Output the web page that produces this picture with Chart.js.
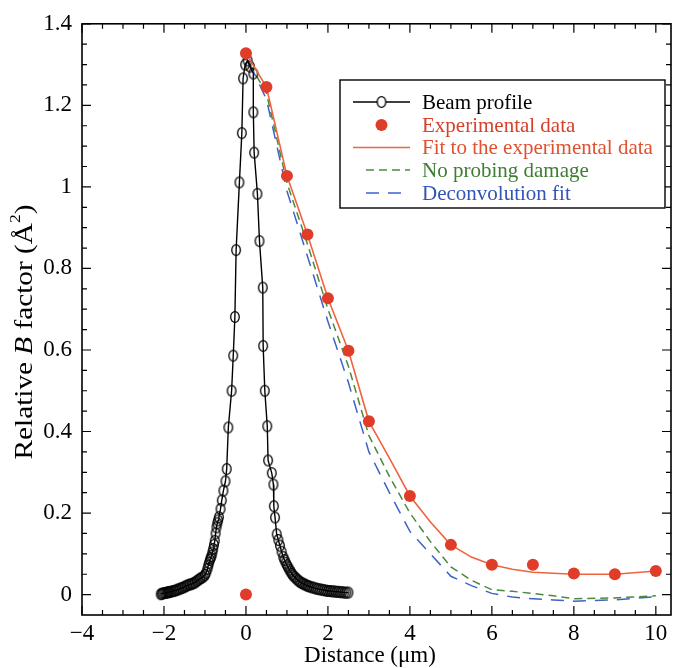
<!DOCTYPE html>
<html>
<head>
<meta charset="utf-8">
<script src="https://cdn.jsdelivr.net/npm/chart.js@4.4.1/dist/chart.umd.min.js"></script>
<style>
html, body { margin: 0; padding: 0; background: #fff; }
#wrap { width: 673px; height: 668px; }
</style>
</head>
<body>
<div id="wrap"><canvas id="grafico" width="673" height="668"></canvas></div>
<script>
// datos
const beamX = [-2.08, -2.05, -2.02, -1.99, -1.96, -1.93, -1.9, -1.87, -1.84, -1.8, -1.76, -1.72, -1.68, -1.64, -1.6, -1.56,
    -1.52, -1.48, -1.44, -1.4, -1.36, -1.32, -1.28, -1.24, -1.2, -1.16, -1.12, -1.08, -1.04, -1.0, -0.97, -0.94, -0.92,
    -0.9, -0.88, -0.86, -0.84, -0.82, -0.8, -0.78, -0.76, -0.74, -0.72, -0.7, -0.68, -0.66, -0.62, -0.59, -0.55, -0.5,
    -0.47, -0.43, -0.35, -0.31, -0.27, -0.24, -0.16, -0.1, -0.07, -0.02, 0.04, 0.1, 0.18, 0.18, 0.2, 0.28, 0.33, 0.41,
    0.42, 0.46, 0.52, 0.54, 0.63, 0.67, 0.68, 0.71, 0.75, 0.79, 0.83, 0.87, 0.91, 0.94, 0.97, 1.0, 1.03, 1.06, 1.09, 1.12,
    1.15, 1.19, 1.23, 1.27, 1.31, 1.35, 1.39, 1.43, 1.47, 1.51, 1.55, 1.6, 1.65, 1.7, 1.75, 1.8, 1.85, 1.9, 1.95, 2.0,
    2.05, 2.1, 2.15, 2.2, 2.25, 2.3, 2.35, 2.4, 2.45, 2.5];
const beamY = [0.001, 0.002, 0.003, 0.004, 0.004, 0.005, 0.006, 0.006, 0.007, 0.008, 0.009, 0.010, 0.012, 0.013, 0.015, 0.016,
    0.018, 0.02, 0.022, 0.024, 0.025, 0.026, 0.028, 0.03, 0.033, 0.036, 0.039, 0.041, 0.044, 0.048, 0.054, 0.063, 0.071,
    0.078, 0.085, 0.09, 0.095, 0.103, 0.112, 0.122, 0.132, 0.15, 0.165, 0.175, 0.182, 0.19, 0.21, 0.231, 0.255, 0.278,
    0.308, 0.41, 0.5, 0.586, 0.681, 0.845, 1.011, 1.132, 1.266, 1.3, 1.31, 1.295, 1.278, 1.183, 1.084, 0.983, 0.867, 0.753,
    0.61, 0.5, 0.413, 0.329, 0.298, 0.27, 0.217, 0.189, 0.148, 0.134, 0.12, 0.105, 0.092, 0.085, 0.078, 0.072, 0.067, 0.061, 0.056, 0.051,
    0.047, 0.043, 0.039, 0.035, 0.032, 0.029, 0.027, 0.025, 0.023, 0.021, 0.02, 0.018, 0.017, 0.015, 0.014, 0.013, 0.012, 0.011, 0.01, 0.009,
    0.009, 0.008, 0.008, 0.007, 0.007, 0.006, 0.006, 0.005, 0.005, 0.005];

const expX = [0, 0, 0.5, 1, 1.5, 2, 2.5, 3, 4, 5, 6, 7, 8, 9, 10];
const expY = [1.328, 0, 1.245, 1.027, 0.883, 0.727, 0.598, 0.425, 0.242, 0.122, 0.073, 0.073, 0.052, 0.05, 0.058];

const fitX = [0, 0.5, 1, 1.5, 2, 2.5, 3, 3.5, 4, 4.5, 5, 5.5, 6, 6.5, 7, 8, 9, 10];
const fitY = [1.328, 1.245, 1.027, 0.883, 0.727, 0.598, 0.425, 0.335, 0.242, 0.178, 0.122, 0.092, 0.073, 0.062, 0.055, 0.05, 0.05, 0.058];

const noDamageX = [0.1, 0.5, 1, 1.5, 2, 2.5, 3, 3.5, 4, 4.5, 5, 5.5, 6, 6.5, 7, 7.5, 8, 9, 10];
const noDamageY = [1.3, 1.23, 1.01, 0.86, 0.70, 0.56, 0.39, 0.29, 0.20, 0.13, 0.068, 0.035, 0.012, 0.008, 0.003, -0.003, -0.01, -0.008, -0.003];

const deconvX = [0.1, 0.5, 1, 1.5, 2, 2.5, 3, 3.5, 4, 4.5, 5, 5.5, 6, 6.5, 7, 7.5, 8, 9, 10];
const deconvY = [1.3, 1.215, 0.99, 0.83, 0.67, 0.52, 0.35, 0.25, 0.155, 0.10, 0.045, 0.022, 0.003, -0.006, -0.01, -0.013, -0.016, -0.013, -0.005];

const xTicks = [-4, -2, 0, 2, 4, 6, 8, 10];
const yTicks = [0, 0.2, 0.4, 0.6, 0.8, 1, 1.2, 1.4];

const SERIF = '"Liberation Serif", "DejaVu Serif", serif';

function pares(xs, ys) {
    return xs.map((x, i) => ({ x: x, y: ys[i] }));
}

// circulo hueco algo alargado, como en la figura
function creaAnillo() {
    const c = document.createElement("canvas");
    c.width = 12;
    c.height = 14;
    const g = c.getContext("2d");
    g.strokeStyle = "#000";
    g.lineWidth = 1.3;
    g.beginPath();
    g.ellipse(6, 7, 4.3, 5.4, 0, 0, Math.PI * 2);
    g.stroke();
    return c;
}
const anillo = creaAnillo();

// el borde derecho del marco llega casi al final de la imagen
const bordeDerecho = {
    id: "bordeDerecho",
    afterLayout(chart) {
        const x = chart.scales.x;
        chart.chartArea.right = 671;
        chart.chartArea.width = 671 - chart.chartArea.left;
        x.right = 671;
        x.width = 671 - x.left;
        x.configure();
    }
};

// marco con marcas hacia dentro en los cuatro lados
const marco = {
    id: "marco",
    afterDatasetsDraw(chart) {
        const ctx = chart.ctx;
        const a = chart.chartArea;
        const sx = chart.scales.x;
        const sy = chart.scales.y;
        ctx.save();
        ctx.strokeStyle = "#000";
        ctx.lineWidth = 1.2;
        ctx.beginPath();
        for (let i = 0; i <= 28; i++) {
            const v = -4 + i * 0.5;
            const px = sx.getPixelForValue(v);
            const len = (i % 4 === 0) ? 9 : 5;
            ctx.moveTo(px, a.bottom); ctx.lineTo(px, a.bottom - len);
            ctx.moveTo(px, a.top); ctx.lineTo(px, a.top + len);
        }
        for (let i = 1; i <= 29; i++) {
            const v = -0.05 + i * 0.05;
            const py = sy.getPixelForValue(v);
            const len = ((i - 1) % 4 === 0) ? 9 : 5;
            ctx.moveTo(a.left, py); ctx.lineTo(a.left + len, py);
            ctx.moveTo(a.right, py); ctx.lineTo(a.right - len, py);
        }
        ctx.stroke();
        ctx.lineWidth = 1.6;
        ctx.strokeRect(a.left, a.top, a.right - a.left, a.bottom - a.top);
        ctx.restore();
    }
};

// titulos de los ejes (B en cursiva, superindice)
const titulos = {
    id: "titulos",
    afterDraw(chart) {
        const ctx = chart.ctx;
        ctx.save();
        ctx.fillStyle = "#000";
        ctx.textBaseline = "middle";
        ctx.font = "23px " + SERIF;
        ctx.textAlign = "center";
        ctx.fillText("Distance (\u03bcm)", 370, 656);

        const partes = [
            { t: "Relative ", f: "25px " + SERIF, dy: 0 },
            { t: "B", f: "italic 25px " + SERIF, dy: 0 },
            { t: " factor (\u00c5", f: "25px " + SERIF, dy: 0 },
            { t: "2", f: "15px " + SERIF, dy: -9 },
            { t: ")", f: "25px " + SERIF, dy: 0 }
        ];
        let total = 0;
        partes.forEach(p => { ctx.font = p.f; p.w = ctx.measureText(p.t).width; total += p.w; });
        ctx.translate(25, 332);
        ctx.rotate(-Math.PI / 2);
        ctx.scale(1.17, 1);
        ctx.textAlign = "left";
        let cx = -total / 2;
        partes.forEach(p => {
            ctx.font = p.f;
            ctx.fillText(p.t, cx, p.dy);
            cx += p.w;
        });
        ctx.restore();
    }
};

// leyenda dentro del area del grafico
const leyenda = {
    id: "leyenda",
    afterDraw(chart) {
        const ctx = chart.ctx;
        const colores = ["#000000", "#d8402c", "#e0512f", "#3f7d33", "#3454b8"];
        ctx.save();
        ctx.fillStyle = "#fff";
        ctx.fillRect(340, 80, 325, 128);
        ctx.strokeStyle = "#000";
        ctx.lineWidth = 1.4;
        ctx.strokeRect(340, 80, 325, 128);
        const filas = [102, 125, 147.5, 170, 193];
        chart.data.datasets.forEach((ds, i) => {
            const y = filas[i];
            ctx.save();
            if (ds.showLine) {
                ctx.strokeStyle = ds.borderColor;
                ctx.lineWidth = ds.borderWidth;
                ctx.setLineDash(ds.borderDash || []);
                ctx.beginPath();
                ctx.moveTo(i >= 3 ? 366 : 353, y);
                ctx.lineTo(410, y);
                ctx.stroke();
            }
            ctx.setLineDash([]);
            if (ds.pointStyle === anillo) {
                ctx.fillStyle = "#fff";
                ctx.beginPath();
                ctx.ellipse(381.5, y, 4.3, 5.4, 0, 0, Math.PI * 2);
                ctx.fill();
                ctx.drawImage(anillo, 381.5 - 6, y - 7);
            } else if (ds.pointRadius > 0) {
                ctx.beginPath();
                ctx.arc(381.5, y, ds.pointRadius, 0, Math.PI * 2);
                ctx.fillStyle = ds.pointBackgroundColor;
                ctx.fill();
            }
            ctx.restore();
            ctx.fillStyle = colores[i];
            ctx.font = "21px " + SERIF;
            ctx.textBaseline = "middle";
            ctx.textAlign = "left";
            ctx.fillText(ds.label, 422, y + 1);
        });
        ctx.restore();
    }
};

function cargaGrafico() {
    const datos = {
        datasets: [
            {
                label: "Beam profile",
                data: pares(beamX, beamY),
                showLine: true,
                borderColor: "#000",
                borderWidth: 1.4,
                pointStyle: anillo,
                pointRadius: 5,
                order: 2
            },
            {
                label: "Experimental data",
                data: pares(expX, expY),
                showLine: false,
                pointRadius: 6,
                pointBorderWidth: 0,
                pointBackgroundColor: "#e03c2a",
                order: 0
            },
            {
                label: "Fit to the experimental data",
                data: pares(fitX, fitY),
                showLine: true,
                borderColor: "#f0633e",
                borderWidth: 1.6,
                pointRadius: 0,
                order: 1
            },
            {
                label: "No probing damage",
                data: pares(noDamageX, noDamageY),
                showLine: true,
                borderColor: "#4a8a3c",
                borderWidth: 1.5,
                borderDash: [8, 5],
                pointRadius: 0,
                order: 3
            },
            {
                label: "Deconvolution fit",
                data: pares(deconvX, deconvY),
                showLine: true,
                borderColor: "#3e62c8",
                borderWidth: 1.5,
                borderDash: [13, 9],
                pointRadius: 0,
                order: 4
            }
        ]
    };

    const config = {
        type: "scatter",
        data: datos,
        options: {
            responsive: false,
            animation: false,
            devicePixelRatio: 1,
            layout: { padding: { top: 21, right: 2, left: 0, bottom: 0 } },
            scales: {
                x: {
                    type: "linear",
                    min: -4,
                    max: 10.37,
                    grid: { display: false, drawTicks: false },
                    border: { display: false },
                    afterBuildTicks: s => { s.ticks = xTicks.map(v => ({ value: v })); },
                    afterFit: s => { s.height = 53; },
                    ticks: {
                        color: "#000",
                        padding: 5,
                        maxRotation: 0,
                        autoSkip: false,
                        font: { family: SERIF, size: 23 },
                        callback: v => (v < 0 ? "\u2212" + Math.abs(v) : String(v))
                    }
                },
                y: {
                    min: -0.05,
                    max: 1.4,
                    grid: { display: false, drawTicks: false },
                    border: { display: false },
                    afterBuildTicks: s => { s.ticks = yTicks.map(v => ({ value: v })); },
                    afterFit: s => { s.width = 82; },
                    ticks: {
                        color: "#000",
                        padding: 10,
                        autoSkip: false,
                        font: { family: SERIF, size: 23 },
                        callback: v => String(v)
                    }
                }
            },
            plugins: {
                legend: { display: false },
                tooltip: { enabled: false }
            }
        },
        plugins: [bordeDerecho, marco, titulos, leyenda]
    };

    const ctx = document.getElementById("grafico").getContext("2d");
    new Chart(ctx, config);
}

cargaGrafico();
</script>
</body>
</html>
